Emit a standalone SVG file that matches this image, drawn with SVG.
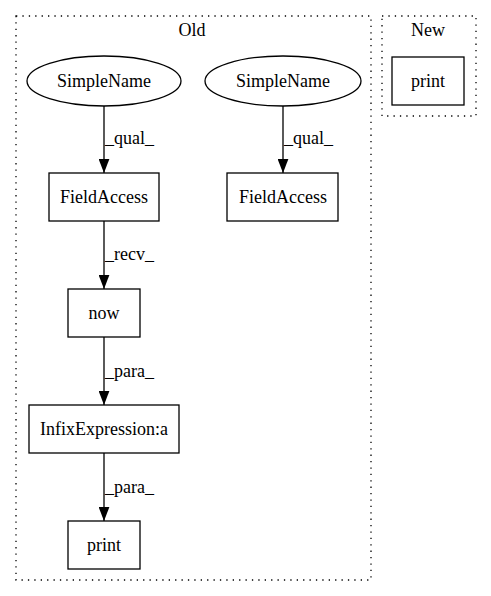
<svg xmlns="http://www.w3.org/2000/svg" width="491" height="596" viewBox="0 0 491 596">
<defs>
<style>
text{font-family:"Liberation Serif","Times New Roman",serif;font-size:18px;fill:#000}
.n{text-anchor:middle}
.shape{fill:none;stroke:#000;stroke-width:1.3}
.cl{fill:none;stroke:#000;stroke-width:1.3;stroke-dasharray:1.3,5.1}
.e{fill:none;stroke:#000;stroke-width:1.3}
</style>
<marker id="ah" markerWidth="14" markerHeight="11" refX="13" refY="5" orient="auto" markerUnits="userSpaceOnUse" viewBox="0 0 13 10">
<polygon points="0,0 13,5 0,10" fill="#000"/>
</marker>
</defs>
<rect width="491" height="596" fill="#fff"/>
<g id="cluster_old">
<rect class="cl" x="16" y="16" width="355" height="564"/>
<text class="n" x="192" y="36">Old</text>
</g>
<g id="cluster_new">
<rect class="cl" x="382" y="16" width="94" height="100"/>
<text class="n" x="428" y="36">New</text>
</g>
<g id="edges">
<line class="e" x1="104" y1="106" x2="104" y2="173" marker-end="url(#ah)"/>
<text x="105" y="144">_qual_</text>
<line class="e" x1="283" y1="106" x2="283" y2="173" marker-end="url(#ah)"/>
<text x="284" y="144">_qual_</text>
<line class="e" x1="104" y1="221" x2="104" y2="289" marker-end="url(#ah)"/>
<text x="105" y="260">_recv_</text>
<line class="e" x1="104" y1="337" x2="104" y2="405" marker-end="url(#ah)"/>
<text x="105" y="377">_para_</text>
<line class="e" x1="104" y1="453" x2="104" y2="521" marker-end="url(#ah)"/>
<text x="105" y="493">_para_</text>
</g>
<g id="simplename1">
<ellipse class="shape" cx="104" cy="81" rx="77" ry="25"/>
<text class="n" x="104" y="87">SimpleName</text>
</g>
<g id="simplename2">
<ellipse class="shape" cx="283" cy="81" rx="78" ry="25"/>
<text class="n" x="283" y="87">SimpleName</text>
</g>
<g id="fieldaccess1">
<rect class="shape" x="49" y="173" width="110" height="48"/>
<text class="n" x="104" y="203">FieldAccess</text>
</g>
<g id="fieldaccess2">
<rect class="shape" x="227" y="173" width="111" height="48"/>
<text class="n" x="283" y="203">FieldAccess</text>
</g>
<g id="now">
<rect class="shape" x="68" y="289" width="72" height="48"/>
<text class="n" x="104" y="319">now</text>
</g>
<g id="infix">
<rect class="shape" x="29" y="405" width="150" height="48"/>
<text class="n" x="104" y="435">InfixExpression:a</text>
</g>
<g id="print_old">
<rect class="shape" x="68" y="521" width="72" height="48"/>
<text class="n" x="104" y="551">print</text>
</g>
<g id="print_new">
<rect class="shape" x="392" y="57" width="72" height="48"/>
<text class="n" x="428" y="87">print</text>
</g>
</svg>
